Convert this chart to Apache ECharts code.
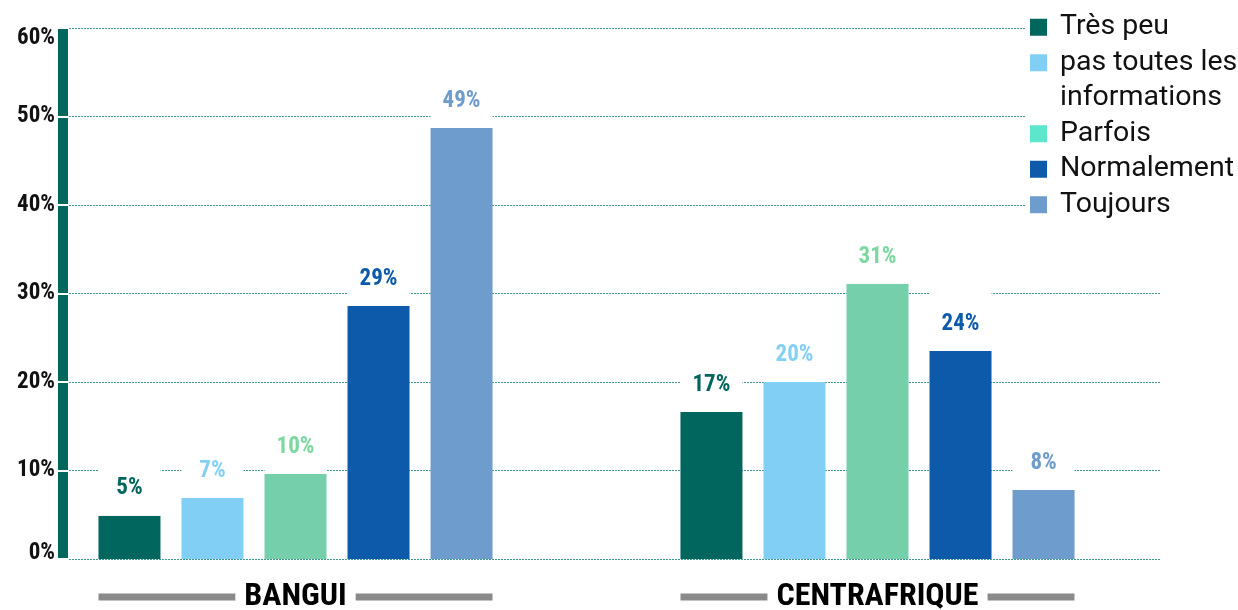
<!DOCTYPE html>
<html>
<head>
<meta charset="utf-8">
<script src="https://cdn.jsdelivr.net/npm/echarts@6/dist/echarts.min.js"></script>
<style>
  html, body { margin: 0; padding: 0; background: #fff; }
  #chart { width: 1238px; height: 610px; }
</style>
</head>
<body>
<div id="chart"></div>
<script>
// Data
const categories = ['BANGUI', 'CENTRAFRIQUE'];
const seriesNames = ['Très peu', 'pas toutes les informations', 'Parfois', 'Normalement', 'Toujours'];
const tresPeu = [4.9, 16.6];
const pasToutes = [6.9, 20.0];
const parfois = [9.6, 31.1];
const normalement = [28.6, 23.5];
const toujours = [48.7, 7.8];
const yTicks = [0, 10, 20, 30, 40, 50, 60];

// Styles
const barColors = ['#00665E', '#82CFF5', '#76CFAB', '#0E5AAA', '#6E9CCC'];
const labelColors = ['#00665E', '#84D0F5', '#7BD9A0', '#0E5AAA', '#6E9CCC'];
const legendColors = ['#00665E', '#82CFF5', '#5CE6CC', '#0E5AAA', '#6E9CCC'];
const condensed = '"Roboto Condensed", "Open Sans Condensed", sans-serif';
const BAR_W = 62;
const BAR_STEP = 83;
const GROUP_W = BAR_STEP * 4 + BAR_W;
const CAT_FONT = 32;
const CAT_GAP = 9;
const LEG_LINE = 35.5;

// width of the grey rules on each side of a category name
function measure(txt) {
  const ctx = document.createElement('canvas').getContext('2d');
  ctx.font = 'bold ' + CAT_FONT + 'px ' + condensed;
  return ctx.measureText(txt).width;
}
const rich = {
  t: { fontFamily: condensed, fontWeight: 'bold', fontSize: CAT_FONT, color: '#000',
       lineHeight: 36, padding: [0, CAT_GAP], verticalAlign: 'middle' }
};
categories.forEach((c, i) => {
  const w = Math.max(10, (GROUP_W - measure(c) - 2 * CAT_GAP) / 2);
  rich['l' + i] = { width: w, height: 7, backgroundColor: '#8a8a8a', verticalAlign: 'middle',
                    fontSize: 1, lineHeight: 36 };
});

const values = [tresPeu, pasToutes, parfois, normalement, toujours];

const series = seriesNames.map((name, i) => ({
  name: name,
  type: 'bar',
  xAxisIndex: 1,
  yAxisIndex: 2,
  barWidth: BAR_W,
  barGap: ((BAR_STEP - BAR_W) / BAR_W * 100).toFixed(1) + '%',
  itemStyle: { color: barColors[i] },
  z: 3,
  label: {
    show: true,
    position: 'top',
    distance: 0,
    formatter: p => Math.round(p.value) + '%',
    color: labelColors[i],
    fontFamily: condensed,
    fontWeight: 'bold',
    fontSize: 23,
    lineHeight: 22,
    width: BAR_W,
    align: 'center',
    backgroundColor: '#ffffff',
    padding: [33, 0, 16, 0]
  },
  data: values[i]
}));

// Legend: the two-line entry keeps its marker on the first line; per-entry
// paddings and a negative gap keep a steady line pitch.
const L = LEG_LINE;
const legendPads = [[0, 0, 0, 8], [L, 0, 0, 8], [L, 0, L, 8], [0, 0, 0, 8], [L, 0, L, 8]];
const legendData = seriesNames.map((name, i) => ({
  name: name,
  itemStyle: { color: legendColors[i] },
  textStyle: { padding: legendPads[i] }
}));

const yLabelFont = { fontFamily: condensed, fontWeight: 'bold', fontSize: 23, color: '#111' };

const option = {
  backgroundColor: '#ffffff',
  animation: false,
  grid: [
    { left: 63, right: 78, top: 28, bottom: 51, outerBoundsMode: 'none' },
    { left: 4.5, right: 69.5, top: 28, bottom: 51, outerBoundsMode: 'none' }
  ],
  legend: {
    orient: 'vertical',
    left: 1025,
    top: 4.5,
    padding: 5,
    backgroundColor: '#ffffff',
    selectedMode: false,
    icon: 'rect',
    itemWidth: 17,
    itemHeight: 17,
    itemGap: -L,
    formatter: name => name === seriesNames[1] ? '{a|pas toutes les\ninformations}' : name,
    textStyle: {
      fontFamily: 'Roboto, sans-serif', fontSize: 28.5, color: '#111', lineHeight: L,
      rich: { a: { fontFamily: 'Roboto, sans-serif', fontSize: 28.5, color: '#111', lineHeight: L } }
    },
    data: legendData,
    z: 10
  },
  xAxis: [
    { gridIndex: 0, type: 'category', show: false, data: categories },
    {
      gridIndex: 1,
      type: 'category',
      data: categories,
      axisLine: { show: false },
      axisTick: { show: false },
      axisLabel: {
        interval: 0,
        margin: 20,
        hideOverlap: false,
        formatter: (v, i) => '{l' + i + '| }{t|' + v + '}{l' + i + '| }',
        rich: rich
      }
    }
  ],
  yAxis: [
    {
      gridIndex: 0,
      type: 'value',
      min: yTicks[0],
      max: yTicks[yTicks.length - 1],
      interval: yTicks[1] - yTicks[0],
      axisLine: { show: true, lineStyle: { color: '#00665E', width: 10, cap: 'butt' } },
      // white notches across the thick bar (outer half)
      axisTick: { show: true, inside: false, length: 5, lineStyle: { color: '#ffffff', width: 2 } },
      axisLabel: Object.assign({
        formatter: v => v === yTicks[0] ? '{lo|' + v + '%}' : v + '%',
        margin: 8,
        lineHeight: 21,
        verticalAlignMaxLabel: 'top',
        verticalAlignMinLabel: 'bottom',
        rich: { lo: Object.assign({ lineHeight: 12 }, yLabelFont) }
      }, yLabelFont),
      splitLine: { show: true, lineStyle: { color: '#3E9A92', width: 1, type: [2, 1] } }
    },
    {
      // white notches across the thick bar (inner half)
      gridIndex: 0,
      type: 'value',
      position: 'left',
      min: yTicks[0],
      max: yTicks[yTicks.length - 1],
      interval: yTicks[1] - yTicks[0],
      z: 2,
      axisLine: { show: true, lineStyle: { color: 'rgba(0,0,0,0)', width: 1 } },
      axisLabel: { show: false },
      splitLine: { show: false },
      axisTick: { show: true, inside: true, length: 5, lineStyle: { color: '#ffffff', width: 2 } }
    },
    {
      gridIndex: 1,
      type: 'value',
      show: false,
      min: yTicks[0],
      max: yTicks[yTicks.length - 1],
      splitLine: { show: false }
    }
  ],
  series: series
};

const chart = echarts.init(document.getElementById('chart'), null, { renderer: 'canvas' });
chart.setOption(option);
</script>
</body>
</html>
